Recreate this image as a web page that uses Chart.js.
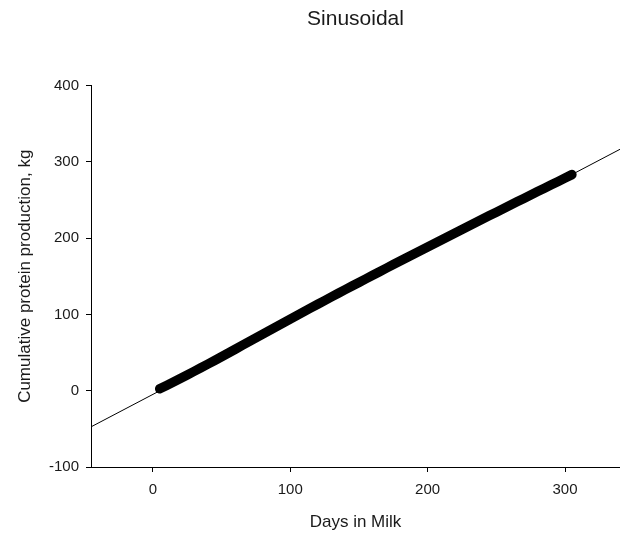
<!DOCTYPE html>
<html>
<head>
<meta charset="utf-8">
<script src="https://cdn.jsdelivr.net/npm/chart.js@4/dist/chart.umd.min.js"></script>
<style>
  html, body { margin: 0; padding: 0; background: #fff; }
  #wrap { width: 620px; height: 534px; }
</style>
</head>
<body>
<div id="wrap"><canvas id="sinChart" width="620" height="534"></canvas></div>
<script>
// cumulative protein over the lactation (sinusoidal model)
const days = [5, 15, 25, 35, 45, 55, 65, 75, 85, 95, 105, 115, 125, 135, 145, 155,
              165, 175, 185, 195, 205, 215, 225, 235, 245, 255, 265, 275, 285, 295, 305];
const protein = [2.5, 11.4, 20.6, 30.0, 39.6, 49.4, 59.3, 69.2, 79.1, 89.0, 98.8, 108.5,
                 118.1, 127.7, 137.2, 146.6, 156.0, 165.3, 174.6, 183.8, 193.0, 202.2,
                 211.3, 220.4, 229.5, 238.5, 247.5, 256.5, 265.4, 274.3, 283.2];

// straight-line fit across the whole axis range
const fitDays = [-45, 340];
const fitProtein = [-47.4, 316.4];

const xTicks = [0, 100, 200, 300];
const yTicks = [-100, 0, 100, 200, 300, 400];

const FONT = '"Liberation Sans", Arial, sans-serif';
const INK = '#1a1a1a';

const toPoints = (xs, ys) => xs.map((x, i) => ({ x: x, y: ys[i] }));

new Chart(document.getElementById("sinChart").getContext("2d"), {
    type: "scatter",
    data: {
        datasets: [
            {
                label: "fit",
                data: toPoints(fitDays, fitProtein),
                showLine: true,
                borderColor: "#000",
                borderWidth: 1,
                pointRadius: 0
            },
            {
                label: "protein",
                data: toPoints(days, protein),
                showLine: true,
                borderColor: "#000",
                borderWidth: 9.5,
                borderCapStyle: "round",
                borderJoinStyle: "round",
                pointRadius: 0,
                tension: 0.3
            }
        ]
    },
    options: {
        responsive: false,
        animation: false,
        layout: { padding: 0 },
        plugins: {
            legend: { display: false },
            tooltip: { enabled: false },
            title: {
                display: true,
                text: "Sinusoidal",
                fullSize: false,
                color: INK,
                font: { family: FONT, size: 21, weight: "normal" },
                padding: { top: 7, bottom: 53.3 }
            }
        },
        scales: {
            x: {
                type: "linear",
                min: -45,
                max: 340,
                afterFit: s => { s.height = 67; },
                afterBuildTicks: s => { s.ticks = xTicks.map(v => ({ value: v })); },
                border: { display: true, color: "#000", width: 1 },
                grid: { display: true, drawOnChartArea: false, drawTicks: true, tickLength: 5, tickColor: "#000" },
                ticks: { color: INK, font: { family: FONT, size: 15 }, padding: 9, maxRotation: 0 },
                title: {
                    display: true,
                    text: "Days in Milk",
                    color: INK,
                    font: { family: FONT, size: 17 },
                    padding: { top: 0, bottom: 1.5 }
                }
            },
            y: {
                type: "linear",
                min: -100,
                max: 400,
                afterFit: s => { s.width = 91; },
                afterBuildTicks: s => { s.ticks = yTicks.map(v => ({ value: v })); },
                border: { display: true, color: "#000", width: 1 },
                grid: { display: true, drawOnChartArea: false, drawTicks: true, tickLength: 5, tickColor: "#000" },
                ticks: { color: INK, font: { family: FONT, size: 15 }, padding: 7 },
                title: {
                    display: true,
                    text: "Cumulative protein production, kg",
                    color: INK,
                    font: { family: FONT, size: 17 },
                    padding: { top: 15, bottom: 0 }
                }
            }
        }
    }
});
</script>
</body>
</html>
